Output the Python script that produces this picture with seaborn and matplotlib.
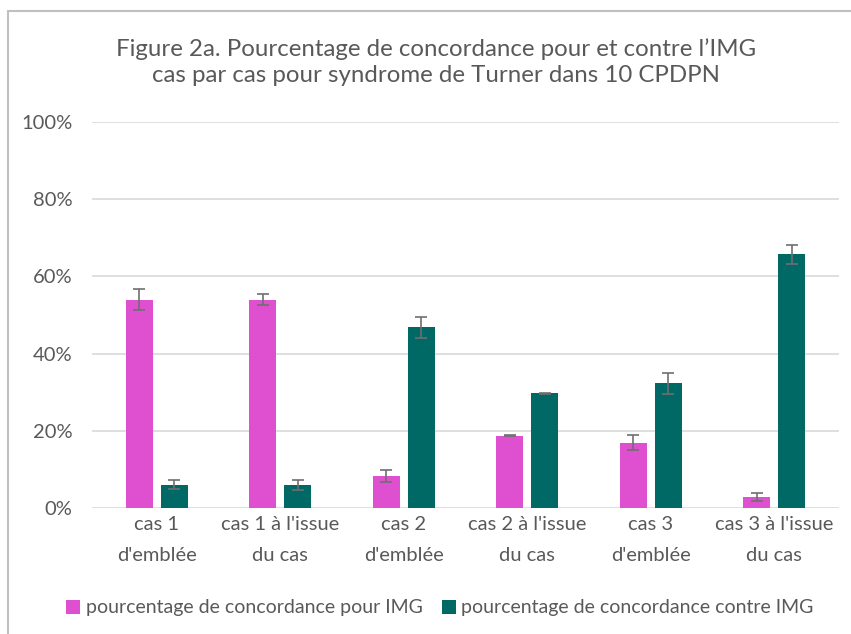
import seaborn as sns
import matplotlib
matplotlib.use("Agg")
import matplotlib.pyplot as plt
from matplotlib.lines import Line2D
import pandas as pd

# values (percent)
categories = ["cas 1\nd'emblée", "cas 1 à l'issue\ndu cas", "cas 2\nd'emblée",
              "cas 2 à l'issue\ndu cas", "cas 3\nd'emblée", "cas 3 à l'issue\ndu cas"]
pour_img = [54.0, 54.0, 8.3, 18.7, 16.9, 2.8]
contre_img = [6.0, 6.0, 46.8, 29.7, 32.3, 65.7]
pour_err = [2.8, 1.5, 1.6, 0.1, 2.0, 1.0]
contre_err = [1.2, 1.3, 2.7, 0.2, 2.7, 2.5]
series_names = ["pourcentage de concordance pour IMG", "pourcentage de concordance contre IMG"]
yticks = [0, 20, 40, 60, 80, 100]

pink = "#DF50D1"
teal = "#006966"
text_color = "#595959"

df = pd.DataFrame({
    "cas": categories * 2,
    "valeur": pour_img + contre_img,
    "serie": [series_names[0]] * len(categories) + [series_names[1]] * len(categories),
})

sns.set_style("white")
plt.rcParams["font.family"] = ["Lato", "DejaVu Sans"]

fig = plt.figure(figsize=(8.51, 6.34), dpi=100)
ax = fig.add_axes([92 / 851, 1 - 508 / 634, (839 - 92) / 851, (508 - 122) / 634])

sns.barplot(data=df, x="cas", y="valeur", hue="serie", palette=[pink, teal], saturation=1,
            width=0.56, gap=0.22, errorbar=None, ax=ax, linewidth=0)

# error bars on top of the seaborn bars
for container, errs in zip(ax.containers, [pour_err, contre_err]):
    xs = [b.get_x() + b.get_width() / 2 for b in container]
    hs = [b.get_height() for b in container]
    ax.errorbar(xs, hs, yerr=errs, fmt="none", ecolor="#6F6F6F", elinewidth=1.2,
                capsize=4, capthick=1.2, zorder=5)

ax.set_ylim(0, 100)
ax.set_yticks(yticks)
ax.set_yticklabels([f"{t}%" for t in yticks])
ax.grid(axis="y", color="#D9D9D9", linewidth=1.2)
ax.set_axisbelow(True)
for side in ["top", "right", "left", "bottom"]:
    ax.spines[side].set_visible(False)
ax.tick_params(axis="y", length=0, pad=14, labelsize=14.5, labelcolor=text_color)
ax.tick_params(axis="x", length=0, pad=6, labelsize=14.5, labelcolor=text_color)
for lab in ax.get_xticklabels():
    lab.set_linespacing(1.95)
ax.set_xlabel("")
ax.set_ylabel("")

fig.text(436 / 851, 1 - 62 / 634,
         "Figure 2a. Pourcentage de concordance pour et contre l’IMG\ncas par cas pour syndrome de Turner dans 10 CPDPN",
         ha="center", va="center", fontsize=17.3, color=text_color, linespacing=1.3)

handles, labels = ax.get_legend_handles_labels()
ax.legend(handles, labels, loc="center", bbox_to_anchor=(440 / 851, 1 - 608 / 634),
          bbox_transform=fig.transFigure, ncol=2, frameon=False, fontsize=14.0,
          handlelength=0.7, handleheight=0.7, handletextpad=0.3, columnspacing=1.0,
          labelcolor=text_color)

# chart border (only left and top visible in the crop)
fig.add_artist(Line2D([8 / 851, 8 / 851], [0, 1 - 11 / 634], color="#BFBFBF", linewidth=1.5,
                      transform=fig.transFigure))
fig.add_artist(Line2D([8 / 851, 1], [1 - 11 / 634, 1 - 11 / 634], color="#BFBFBF", linewidth=1.5,
                      transform=fig.transFigure))

fig.savefig("out.png", dpi=100)
